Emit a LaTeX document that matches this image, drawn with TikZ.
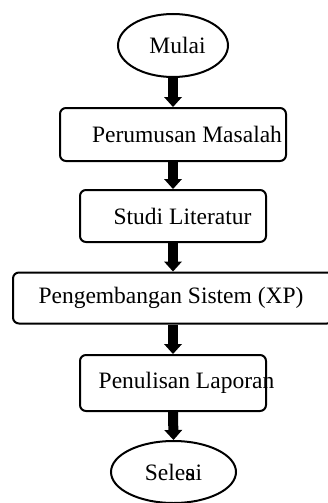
\documentclass[tikz,border=0pt]{standalone}
\usepackage{fontspec}
\setmainfont{Liberation Serif}
\usetikzlibrary{shapes.geometric,arrows.meta}
\tikzset{
  term/.style={ellipse,draw,line width=2pt,inner sep=0pt},
  procbox/.style={rectangle,draw,line width=2pt,rounded corners=6pt,inner sep=0pt},
  txt/.style={inner sep=0pt,font=\fontsize{23.5}{26}\selectfont},
  flow/.style={line width=10pt,-{Triangle[width=18pt,length=10pt,line width=0pt]}}
}
\begin{document}
\begin{tikzpicture}[x=1pt,y=-1pt]
\useasboundingbox[fill=white] (0,0) rectangle (328,503);
\node[term,minimum width=110pt,minimum height=63pt] (mulai) at (173,45.5) {};
\node[txt] (tmulai) at (177.5,45.5) {Mulai};
\node[procbox,minimum width=226pt,minimum height=53pt] (b1) at (173,134.5) {};
\node[txt] (t1) at (187,134.5) {Perumusan Masalah};
\node[procbox,minimum width=186pt,minimum height=52pt] (b2) at (173,216) {};
\node[txt] (t2) at (182.5,216) {Studi Literatur};
\node[procbox,minimum width=320pt,minimum height=51pt] (b3) at (173,298) {};
\node[txt] (t3) at (171,298) {Pengembangan Sistem (XP)};
\node[procbox,minimum width=186pt,minimum height=56pt] (b4) at (173,383) {};
\node[txt] (t4) at (186.5,383) {Penulisan Laporan};
\node[term,minimum width=125pt,minimum height=62pt] (selesai) at (173.5,472) {};
\node[txt] (tselesai) at (173.5,472) {Sele\rlap{s}ai};
\draw[flow] (mulai.south) -- (b1.north);
\draw[flow] (b1.south) -- (b2.north);
\draw[flow] (b2.south) -- (b3.north);
\draw[flow] (b3.south) -- (b4.north);
\draw[flow] (b4.south) -- (selesai.north);
\end{tikzpicture}
\end{document}
